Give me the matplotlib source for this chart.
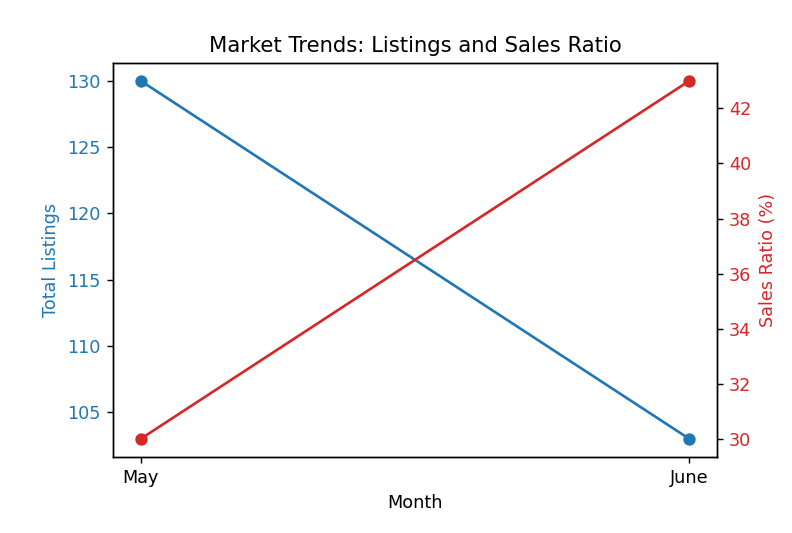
import matplotlib
matplotlib.use('Agg')
import matplotlib.pyplot as plt

months = ['May', 'June']
total_listings = [130, 103]
sales_ratio = [30, 43]

# reference looks like a scaled-up render, so use a higher dpi
dpi = 127
fig, ax1 = plt.subplots(figsize=(792 / dpi, 533 / dpi), dpi=dpi)
fig.subplots_adjust(left=0.143, right=0.905, top=0.882, bottom=0.143)

# Left axis: listings
ax1.plot(months, total_listings, color='tab:blue', marker='o')
ax1.set_xlabel('Month')
ax1.set_ylabel('Total Listings', color='tab:blue')
ax1.tick_params(axis='y', labelcolor='tab:blue')

# Right axis: sales ratio
ax2 = ax1.twinx()
ax2.plot(months, sales_ratio, color='tab:red', marker='o')
ax2.set_ylabel('Sales Ratio (%)', color='tab:red')
ax2.tick_params(axis='y', labelcolor='tab:red')

plt.title('Market Trends: Listings and Sales Ratio')
plt.savefig('out.png', dpi=dpi)
